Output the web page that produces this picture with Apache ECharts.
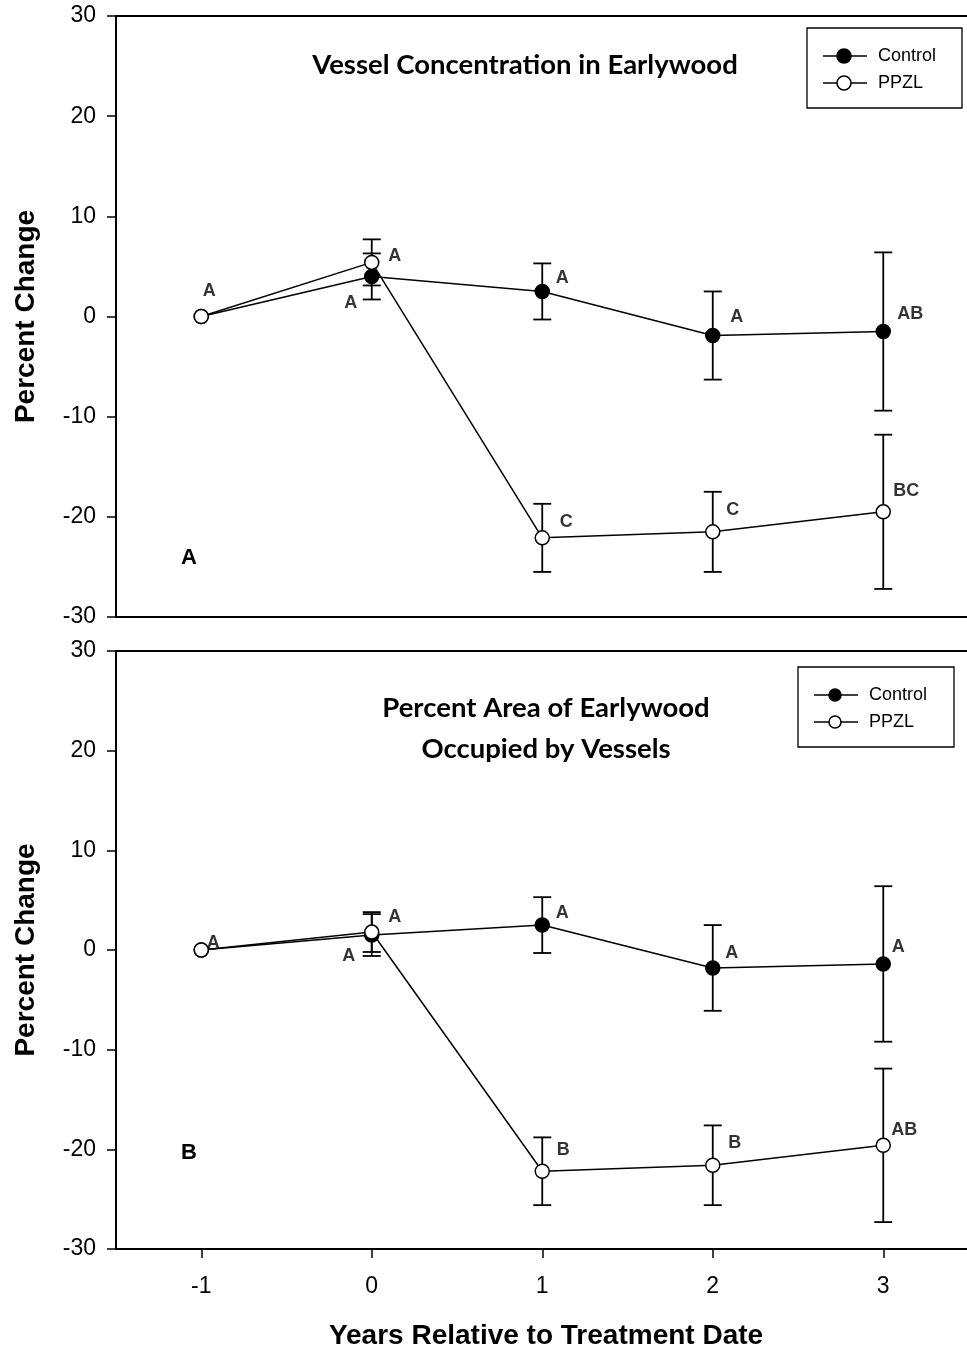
<!DOCTYPE html>
<html>
<head>
<meta charset="utf-8">
<script src="https://cdn.jsdelivr.net/npm/echarts@6/dist/echarts.min.js"></script>
<style>
  html, body { margin: 0; padding: 0; background: #fff; }
  #chart { width: 967px; height: 1348px; }
</style>
</head>
<body>
<div id="chart"></div>
<script>
// Years relative to treatment date
const years = [-1, 0, 1, 2, 3];
const xTickValues = [-1, 0, 1, 2, 3];

// Panel A: vessel concentration in earlywood (percent change, mean and error)
const controlA = [0, 4.0, 2.5, -1.9, -1.5];
const controlAErr = [0, 2.3, 2.8, 4.4, 7.9];
const ppzlA = [0, 5.4, -22.1, -21.5, -19.5];
const ppzlAErr = [0, 2.3, 3.4, 4.0, 7.7];
const controlALetters = ['', 'A', 'A', 'A', 'AB'];
const ppzlALetters = ['A', 'A', 'C', 'C', 'BC'];

// Panel B: percent area of earlywood occupied by vessels
const controlB = [0, 1.5, 2.5, -1.8, -1.4];
const controlBErr = [0, 2.1, 2.8, 4.3, 7.8];
const ppzlB = [0, 1.8, -22.2, -21.6, -19.6];
const ppzlBErr = [0, 2.0, 3.4, 4.0, 7.7];
const controlBLetters = ['', 'A', 'A', 'A', 'A'];
const ppzlBLetters = ['A', 'A', 'B', 'B', 'AB'];

// Letter placement relative to each point (pixels)
const offCtrlA = [[0, 0], [-21, 27], [20, -13], [24, -19], [27, -17]];
const offPpzlA = [[8, -25], [23, -6], [24, -16], [20, -22], [23, -21]];
const offCtrlB = [[0, 0], [-23, 21], [20, -12], [19, -15], [15, -17]];
const offPpzlB = [[12, -7], [23, -15], [21, -21], [22, -22], [21, -15]];

const SANS = '"Liberation Sans", Arial, sans-serif';
const TITLE_FONT = 'Lato, "Open Sans", sans-serif';

const chart = echarts.init(document.getElementById('chart'), null, { renderer: 'canvas' });

function errData(vals, errs) {
  return years.map((x, i) => [x, vals[i] - errs[i], vals[i] + errs[i]]).filter((d, i) => errs[i] > 0);
}

function errorSeries(vals, errs, gi) {
  return {
    type: 'custom',
    xAxisIndex: gi, yAxisIndex: gi,
    z: 2,
    silent: true,
    data: errData(vals, errs),
    encode: { x: 0, y: [1, 2] },
    renderItem: function (params, api) {
      const x = api.value(0);
      const lo = api.coord([x, api.value(1)]);
      const hi = api.coord([x, api.value(2)]);
      const w = 9;
      const style = { stroke: '#000', lineWidth: 1.8 };
      return {
        type: 'group',
        children: [
          { type: 'line', shape: { x1: hi[0], y1: hi[1], x2: lo[0], y2: lo[1] }, style },
          { type: 'line', shape: { x1: hi[0] - w, y1: hi[1], x2: hi[0] + w, y2: hi[1] }, style },
          { type: 'line', shape: { x1: lo[0] - w, y1: lo[1], x2: lo[0] + w, y2: lo[1] }, style }
        ]
      };
    }
  };
}

function lineSeries(name, vals, gi, filled) {
  return {
    name: name,
    type: 'line',
    xAxisIndex: gi, yAxisIndex: gi,
    z: filled ? 3 : 4,
    silent: true,
    data: years.map((x, i) => [x, vals[i]]),
    symbol: 'circle',
    symbolSize: 14,
    showAllSymbol: true,
    lineStyle: { color: '#000', width: 1.5 },
    itemStyle: { color: filled ? '#000' : '#fff', borderColor: '#000', borderWidth: 1.5 },
    emphasis: { disabled: true },
    animation: false
  };
}

function letterSeries(vals, letters, offs, gi) {
  return {
    type: 'scatter',
    xAxisIndex: gi, yAxisIndex: gi,
    z: 5,
    silent: true,
    symbolSize: 0,
    data: years.map((x, i) => ({
      value: [x, vals[i]],
      label: { formatter: letters[i], offset: offs[i] }
    })).filter((d, i) => letters[i] !== ''),
    label: {
      show: true,
      position: 'inside',
      color: '#000',
      textBorderWidth: 0,
      fontFamily: SANS,
      fontWeight: 'bold',
      fontSize: 18
    },
    animation: false
  };
}

function yAxis(gi) {
  return {
    type: 'value',
    gridIndex: gi,
    min: -30, max: 30, interval: 10,
    name: 'Percent Change',
    nameLocation: 'middle',
    nameRotate: 90,
    nameGap: 76,
    nameTextStyle: { fontFamily: SANS, fontWeight: 'bold', fontSize: 28, color: '#000' },
    axisLine: { show: true, onZero: false, lineStyle: { color: '#000', width: 1.8 } },
    axisTick: { show: true, inside: false, length: 9, lineStyle: { color: '#000', width: 1.5 } },
    axisLabel: { color: '#000', fontFamily: SANS, fontSize: 23, margin: 20 },
    splitLine: { show: false }
  };
}

// The plot area runs past the right edge of the page, so its right border is never seen
const GRID_LEFT = 116;
const GRID_WIDTH = 860;
const X_MIN = -1.5;
const X_MAX = X_MIN + GRID_WIDTH / 170.5;

function xAxis(gi, withLabels) {
  const ax = {
    type: 'value',
    gridIndex: gi,
    min: X_MIN, max: X_MAX,
    axisLine: { show: true, onZero: false, lineStyle: { color: '#000', width: 1.8 } },
    splitLine: { show: false },
    axisTick: { show: false },
    axisLabel: { show: false }
  };
  if (withLabels) {
    ax.axisTick = { show: true, length: 9, customValues: xTickValues, lineStyle: { color: '#000', width: 1.5 } };
    ax.axisLabel = { show: true, customValues: xTickValues, color: '#000', fontFamily: SANS, fontSize: 23, margin: 26 };
    ax.name = 'Years Relative to Treatment Date';
    ax.nameLocation = 'middle';
    ax.nameGap = 73;
    ax.nameTextStyle = { fontFamily: SANS, fontWeight: 'bold', fontSize: 28, color: '#000' };
  }
  return ax;
}

function legendGraphics(x, y, w, h, rowGap, r) {
  const lx1 = x + 16, lx2 = x + 60, cx = x + 37, tx = x + 71;
  const rows = [{ label: 'Control', fill: '#000' }, { label: 'PPZL', fill: '#fff' }];
  const els = [{
    type: 'rect', shape: { x: x, y: y, width: w, height: h },
    style: { fill: '#fff', stroke: '#000', lineWidth: 1.3 }, z: 10
  }];
  rows.forEach((row, i) => {
    const cy = y + 28 + i * rowGap;
    els.push({ type: 'line', shape: { x1: lx1, y1: cy, x2: lx2, y2: cy }, style: { stroke: '#000', lineWidth: 1.5 }, z: 11 });
    els.push({ type: 'circle', shape: { cx: cx, cy: cy, r: r }, style: { fill: row.fill, stroke: '#000', lineWidth: 1.5 }, z: 12 });
    els.push({ type: 'text', x: tx, y: cy, style: { text: row.label, fill: '#000', font: '18px ' + SANS, textVerticalAlign: 'middle' }, z: 12 });
  });
  return els;
}

const option = {
  backgroundColor: '#fff',
  animation: false,
  grid: [
    { left: GRID_LEFT, top: 16, width: GRID_WIDTH, height: 601, outerBoundsMode: 'none', containLabel: false, show: true, borderColor: '#000', borderWidth: 1.8, backgroundColor: 'transparent' },
    { left: GRID_LEFT, top: 651, width: GRID_WIDTH, height: 598, outerBoundsMode: 'none', containLabel: false, show: true, borderColor: '#000', borderWidth: 1.8, backgroundColor: 'transparent' }
  ],
  xAxis: [xAxis(0, false), xAxis(1, true)],
  yAxis: [yAxis(0), yAxis(1)],
  series: [
    errorSeries(controlA, controlAErr, 0),
    errorSeries(ppzlA, ppzlAErr, 0),
    lineSeries('Control', controlA, 0, true),
    lineSeries('PPZL', ppzlA, 0, false),
    letterSeries(controlA, controlALetters, offCtrlA, 0),
    letterSeries(ppzlA, ppzlALetters, offPpzlA, 0),

    errorSeries(controlB, controlBErr, 1),
    errorSeries(ppzlB, ppzlBErr, 1),
    lineSeries('Control', controlB, 1, true),
    lineSeries('PPZL', ppzlB, 1, false),
    letterSeries(controlB, controlBLetters, offCtrlB, 1),
    letterSeries(ppzlB, ppzlBLetters, offPpzlB, 1)
  ],
  graphic: [
    { type: 'text', x: 525, y: 65, style: { text: 'Vessel Concentration in Earlywood', fill: '#000', font: 'bold 27.5px ' + TITLE_FONT, textAlign: 'center', textVerticalAlign: 'middle' } },
    { type: 'text', x: 546, y: 708, style: { text: 'Percent Area of Earlywood', fill: '#000', font: 'bold 27.5px ' + TITLE_FONT, textAlign: 'center', textVerticalAlign: 'middle' } },
    { type: 'text', x: 546, y: 749, style: { text: 'Occupied by Vessels', fill: '#000', font: 'bold 27.5px ' + TITLE_FONT, textAlign: 'center', textVerticalAlign: 'middle' } },
    { type: 'text', x: 189, y: 558, style: { text: 'A', fill: '#000', font: 'bold 22px ' + SANS, textAlign: 'center', textVerticalAlign: 'middle' } },
    { type: 'text', x: 189, y: 1153, style: { text: 'B', fill: '#000', font: 'bold 22px ' + SANS, textAlign: 'center', textVerticalAlign: 'middle' } }
  ].concat(legendGraphics(807, 28, 155, 80, 27, 7))
   .concat(legendGraphics(798, 667, 156, 80, 27, 6))
};

chart.setOption(option);
</script>
</body>
</html>
